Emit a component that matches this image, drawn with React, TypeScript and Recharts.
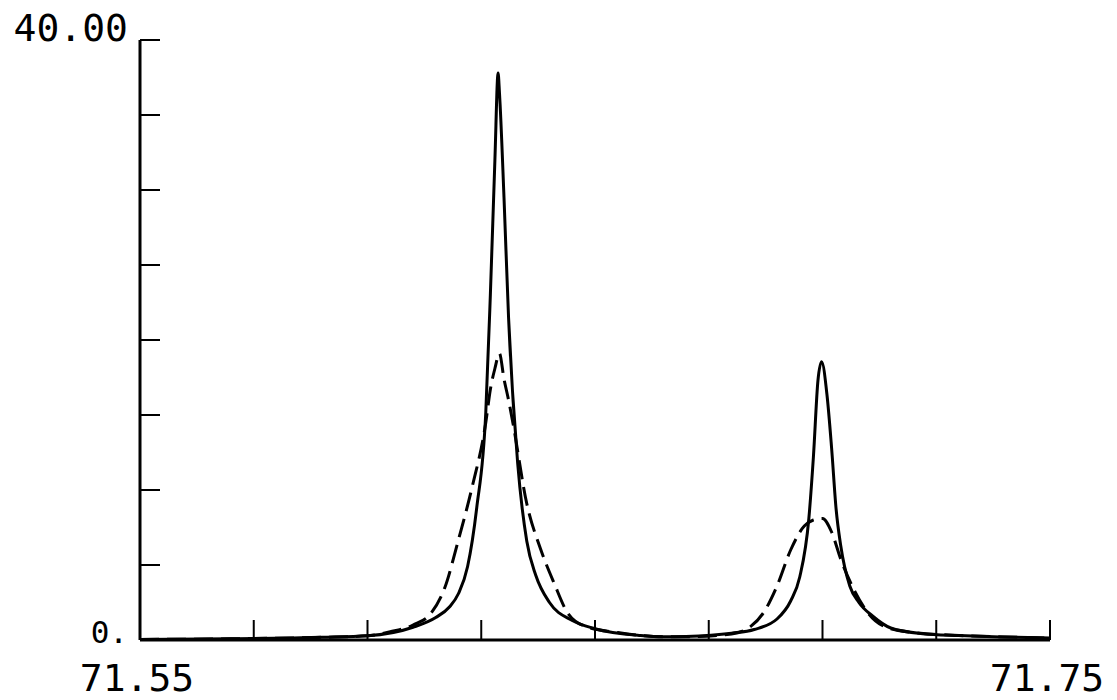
import { LineChart, Line, XAxis, YAxis } from "recharts";

// x axis: 71.55 .. 71.75, ticks every 0.025
const xTicks = [71.55, 71.575, 71.6, 71.625, 71.65, 71.675, 71.7, 71.725, 71.75];
const xTickLabels = ["71.55", "", "", "", "", "", "", "", "71.75"];

// y axis: 0 .. 40, ticks every 5
const yTicks = [0, 5, 10, 15, 20, 25, 30, 35, 40];
const yTickLabels = ["0.", "", "", "", "", "", "", "", "40.00"];

// solid curve
const solidX = [
  71.55, 71.57, 71.59, 71.6, 71.61, 71.615, 71.618, 71.62, 71.622, 71.624,
  71.626, 71.627, 71.628, 71.6287, 71.629, 71.63, 71.631, 71.633, 71.635,
  71.637, 71.64, 71.645, 71.65, 71.66, 71.665, 71.67, 71.68, 71.685, 71.69,
  71.693, 71.695, 71.697, 71.698, 71.699, 71.6998, 71.701, 71.702, 71.703,
  71.704, 71.706, 71.708, 71.711, 71.715, 71.722, 71.73, 71.74, 71.75,
];
const solidY = [
  0.04, 0.08, 0.18, 0.28, 0.85, 1.5, 2.2, 3.1, 4.9, 8.8,
  15.2, 23.0, 32.0, 37.8, 36.5, 29.5, 21.5, 11.8, 6.6,
  4.3, 2.5, 1.3, 0.75, 0.3, 0.22, 0.24, 0.45, 0.7, 1.4,
  2.6, 4.2, 8.1, 12.2, 17.3, 18.55, 16.3, 12.8, 8.7,
  6.3, 3.6, 2.5, 1.6, 0.8, 0.42, 0.3, 0.2, 0.13,
];

// dashed curve
const dashedX = [
  71.55, 71.57, 71.59, 71.6, 71.605, 71.61, 71.614, 71.617, 71.62, 71.623,
  71.626, 71.627, 71.628, 71.629, 71.63, 71.631, 71.632, 71.635, 71.638,
  71.641, 71.644, 71.648, 71.655, 71.665, 71.67, 71.68, 71.684, 71.687,
  71.69, 71.693, 71.696, 71.698, 71.7, 71.702, 71.704, 71.707, 71.71,
  71.714, 71.72, 71.73, 71.74, 71.75,
];
const dashedY = [
  0.04, 0.08, 0.18, 0.28, 0.55, 1.0, 1.8, 3.5, 6.7, 10.2,
  14.5, 16.7, 18.1, 19.1, 17.4, 16.0, 14.4, 9.1, 6.1,
  3.8, 1.8, 0.9, 0.5, 0.22, 0.22, 0.4, 0.85, 1.8,
  3.6, 6.0, 7.6, 8.0, 8.1, 7.2, 5.4, 3.3, 1.8,
  0.85, 0.5, 0.3, 0.2, 0.13,
];

const solidData = solidX.map((x, i) => ({ x, y: solidY[i] }));
const dashedData = dashedX.map((x, i) => ({ x, y: dashedY[i] }));

const FONT = "'DejaVu Sans Mono', monospace";

function XTick(props: any) {
  const { x, y, index } = props;
  const label = xTickLabels[index];
  return (
    <g>
      <line x1={x} y1={y} x2={x} y2={y - 20} stroke="#000" strokeWidth={2} />
      {label && (
        <text x={x - 3} y={y + 51} textAnchor="middle" fontSize={38} fontFamily={FONT} fill="#000">
          {label}
        </text>
      )}
    </g>
  );
}

function YTick(props: any) {
  const { x, y, index } = props;
  const label = yTickLabels[index];
  const small = index === 0;
  return (
    <g>
      <line x1={x} y1={y} x2={x + 20} y2={y} stroke="#000" strokeWidth={2} />
      {label && (
        <text
          x={x - 12}
          y={y + (small ? 3 : 1)}
          textAnchor="end"
          fontSize={small ? 31 : 38}
          fontFamily={FONT}
          fill="#000"
        >
          {label}
        </text>
      )}
    </g>
  );
}

export default function App() {
  return (
    <div style={{ position: "absolute", left: 0, top: 0, background: "#fff" }}>
      <LineChart width={1117} height={700} margin={{ top: 40, right: 67, bottom: 0, left: 0 }}>
        <XAxis
          dataKey="x"
          type="number"
          domain={[71.55, 71.75]}
          ticks={xTicks}
          allowDataOverflow
          height={60}
          tickSize={0}
          tickMargin={0}
          tickLine={false}
          axisLine={{ stroke: "#000", strokeWidth: 3 }}
          tick={<XTick />}
          interval={0}
        />
        <YAxis
          type="number"
          domain={[0, 40]}
          ticks={yTicks}
          allowDataOverflow
          width={140}
          tickSize={0}
          tickMargin={0}
          tickLine={false}
          axisLine={{ stroke: "#000", strokeWidth: 3 }}
          tick={<YTick />}
          interval={0}
        />
        <Line
          data={solidData}
          dataKey="y"
          type="monotone"
          stroke="#000"
          strokeWidth={3}
          dot={false}
          isAnimationActive={false}
        />
        <Line
          data={dashedData}
          dataKey="y"
          type="monotone"
          stroke="#000"
          strokeWidth={3}
          strokeDasharray="19 8"
          dot={false}
          isAnimationActive={false}
        />
      </LineChart>
    </div>
  );
}
